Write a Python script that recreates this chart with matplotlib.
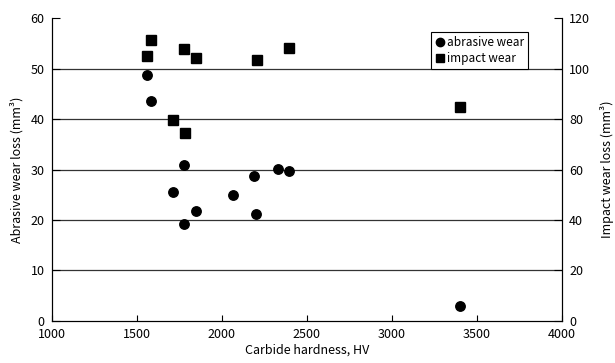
import matplotlib
matplotlib.use('Agg')
import matplotlib.pyplot as plt
from matplotlib.lines import Line2D

# abrasive wear (left axis)
abr_hv = [1561, 1586, 1778, 1712, 1851, 1778, 2067, 2190, 2200, 2331, 2392, 3398]
abr_loss = [48.7, 43.6, 30.8, 25.5, 21.8, 19.2, 24.9, 28.8, 21.1, 30.1, 29.8, 3.0]

# impact wear (right axis)
imp_hv = [1586, 1561, 1778, 1851, 1712, 1784, 2206, 2394, 3398]
imp_loss = [111.3, 105.1, 107.7, 104.4, 79.6, 74.3, 103.4, 108.1, 84.6]

left_ticks = [0, 10, 20, 30, 40, 50, 60]
right_ticks = [0, 20, 40, 60, 80, 100, 120]
x_ticks = [1000, 1500, 2000, 2500, 3000, 3500, 4000]

plt.rcParams['font.family'] = ['Noto Sans CJK JP', 'DejaVu Sans']
plt.rcParams['font.size'] = 9

fig = plt.figure(figsize=(6.15, 3.63), dpi=100)
ax = fig.add_axes([0.084, 0.116, 0.83, 0.834])
ax2 = ax.twinx()

for y in left_ticks[1:-1]:
    ax.axhline(y, color='#333333', lw=0.9, zorder=1)

ax.plot(abr_hv, abr_loss, 'o', color='black', markersize=6.8, zorder=3)
ax2.plot(imp_hv, imp_loss, 's', color='black', markersize=7.0, zorder=3)

ax.set_xlim(1000, 4000)
ax.set_ylim(0, 60)
ax2.set_ylim(0, 120)
ax.set_xticks(x_ticks)
ax.set_yticks(left_ticks)
ax2.set_yticks(right_ticks)

ax.tick_params(axis='both', direction='in', length=4, width=0.8, labelsize=9, pad=5)
ax.tick_params(axis='y', length=6)
ax2.tick_params(axis='y', direction='in', length=6, width=0.8, labelsize=9, pad=5)
ax.spines['top'].set_visible(False)
ax2.spines['top'].set_visible(False)

ax.set_xlabel('Carbide hardness, HV', fontsize=9, labelpad=2)
ax.set_ylabel('Abrasive wear loss (mm³)', fontsize=9, labelpad=5)
ax2.set_ylabel('Impact wear loss (mm³)', fontsize=9, labelpad=7)

handles = [
    Line2D([], [], marker='o', color='black', linestyle='none', markersize=6),
    Line2D([], [], marker='s', color='black', linestyle='none', markersize=6),
]
leg = ax2.legend(handles, ['abrasive wear', 'impact wear'], loc='upper right',
                 bbox_to_anchor=(0.945, 0.975), fontsize=8.5, fancybox=False,
                 edgecolor='black', framealpha=1, handlelength=0.8,
                 handletextpad=0.2, borderpad=0.35, labelspacing=0.3)
leg.get_frame().set_linewidth(0.8)

fig.savefig('out.png', dpi=100)
